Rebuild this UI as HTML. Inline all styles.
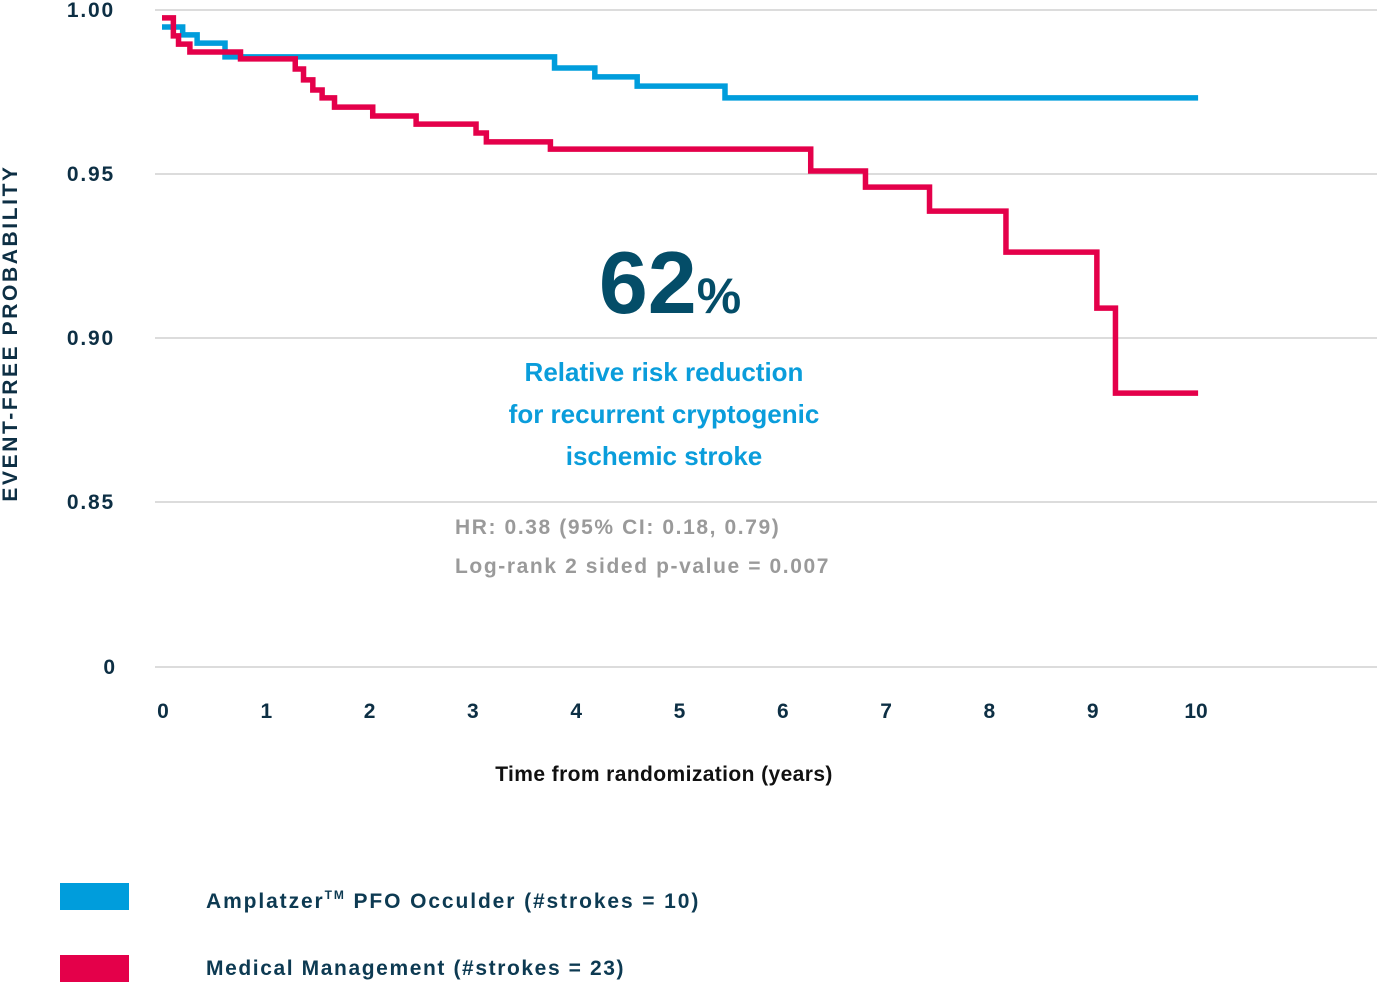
<!DOCTYPE html>
<html><head><meta charset="utf-8"><style>
body{margin:0;background:#fff;}
svg{display:block;font-family:"Liberation Sans",sans-serif;font-weight:bold;}
</style></head><body>
<svg width="1377" height="1007" viewBox="0 0 1377 1007">
<g id="grid"></g><g id="yticks"></g><g id="xticks"></g>
<text transform="translate(17,333) rotate(-90)" text-anchor="middle" font-size="21" fill="#0d2f44" letter-spacing="2.6">EVENT-FREE PROBABILITY</text>
<text x="664" y="781" text-anchor="middle" font-size="21" fill="#111" letter-spacing="0.4">Time from randomization (years)</text>
<g id="series"></g>
<text x="670" y="313" text-anchor="middle" font-size="88" fill="#044d68">62<tspan font-size="50">%</tspan></text>
<g font-size="26" fill="#0a9ddb" text-anchor="middle">
<text x="664" y="381">Relative risk reduction</text>
<text x="664" y="423">for recurrent cryptogenic</text>
<text x="664" y="465">ischemic stroke</text></g>
<g font-size="21" fill="#9a9a9a" letter-spacing="1.6">
<text x="455" y="534">HR: 0.38 (95% CI: 0.18, 0.79)</text>
<text x="455" y="573">Log-rank 2 sided p-value = 0.007</text></g>
<g>
<rect x="60" y="883" width="69" height="27" fill="#009ddc"/>
<text x="206" y="908" font-size="21" fill="#0d3a52" letter-spacing="1.9">Amplatzer<tspan font-size="12" dy="-9">TM</tspan><tspan dy="9"> PFO Occulder (#strokes = 10)</tspan></text>
<rect x="60" y="955" width="69" height="27" fill="#e4004a"/>
<text x="206" y="975" font-size="21" fill="#0d3a52" letter-spacing="1.6">Medical Management (#strokes = 23)</text>
</g>
</svg>
<script>
const yTickVals=[1.00,0.95,0.90,0.85];
const yTickLabels=["1.00","0.95","0.90","0.85"];
const xTickVals=[0,1,2,3,4,5,6,7,8,9,10];
const blueT=[0,0.20,0.34,0.61,3.80,4.19,4.60,5.45,10.03];
const blueV=[0.9948,0.9924,0.9899,0.9857,0.9823,0.9796,0.9768,0.9732,0.9732];
const redT=[0,0.11,0.16,0.27,0.76,1.29,1.37,1.46,1.55,1.67,2.04,2.46,3.04,3.14,3.76,6.28,6.81,7.43,8.17,9.05,9.23,10.03];
const redV=[0.9976,0.9921,0.9896,0.9872,0.9851,0.9820,0.9787,0.9756,0.9732,0.9704,0.9677,0.9652,0.9625,0.9598,0.9576,0.9509,0.9460,0.9387,0.9262,0.9091,0.8832,0.8832];
const NS="http://www.w3.org/2000/svg";
function X(t){return 162+t*103.3;}
function Y(v){return 10+(1-v)/0.05*164;}
function mk(tag,attrs,parent){const e=document.createElementNS(NS,tag);for(const k in attrs)e.setAttribute(k,attrs[k]);parent.appendChild(e);return e;}
const grid=document.getElementById('grid'),yt=document.getElementById('yticks'),xt=document.getElementById('xticks'),ser=document.getElementById('series');
const gy=yTickVals.map(Y).concat([667]);
gy.forEach((y,i)=>{const l=mk('line',{x1:155,x2:1377,y1:y,y2:y,stroke:'#d0d0d0','stroke-width':1.5},grid);

});
yTickVals.forEach((v,i)=>{const t=mk('text',{x:115,y:Y(v)+7,'text-anchor':'end','font-size':21,fill:'#0d2f44','letter-spacing':1.8},yt);t.textContent=yTickLabels[i];

});
const z=mk('text',{x:115,y:674,'text-anchor':'end','font-size':21,fill:'#0d2f44'},yt);z.textContent='0';


xTickVals.forEach(v=>{const t=mk('text',{x:X(v)+1,y:718,'text-anchor':'middle','font-size':21,fill:'#0d2f44'},xt);t.textContent=String(v);

});
function step(T,V){let d='M'+X(T[0])+','+Y(V[0]);for(let i=1;i<T.length;i++){d+=' H'+X(T[i])+' V'+Y(V[i]);}return d;}
const pb=mk('path',{d:step(blueT,blueV),fill:'none',stroke:'#009ddc','stroke-width':5.5},ser);


const pr=mk('path',{d:step(redT,redV),fill:'none',stroke:'#e4004a','stroke-width':5.5},ser);


</script>
</body></html>
